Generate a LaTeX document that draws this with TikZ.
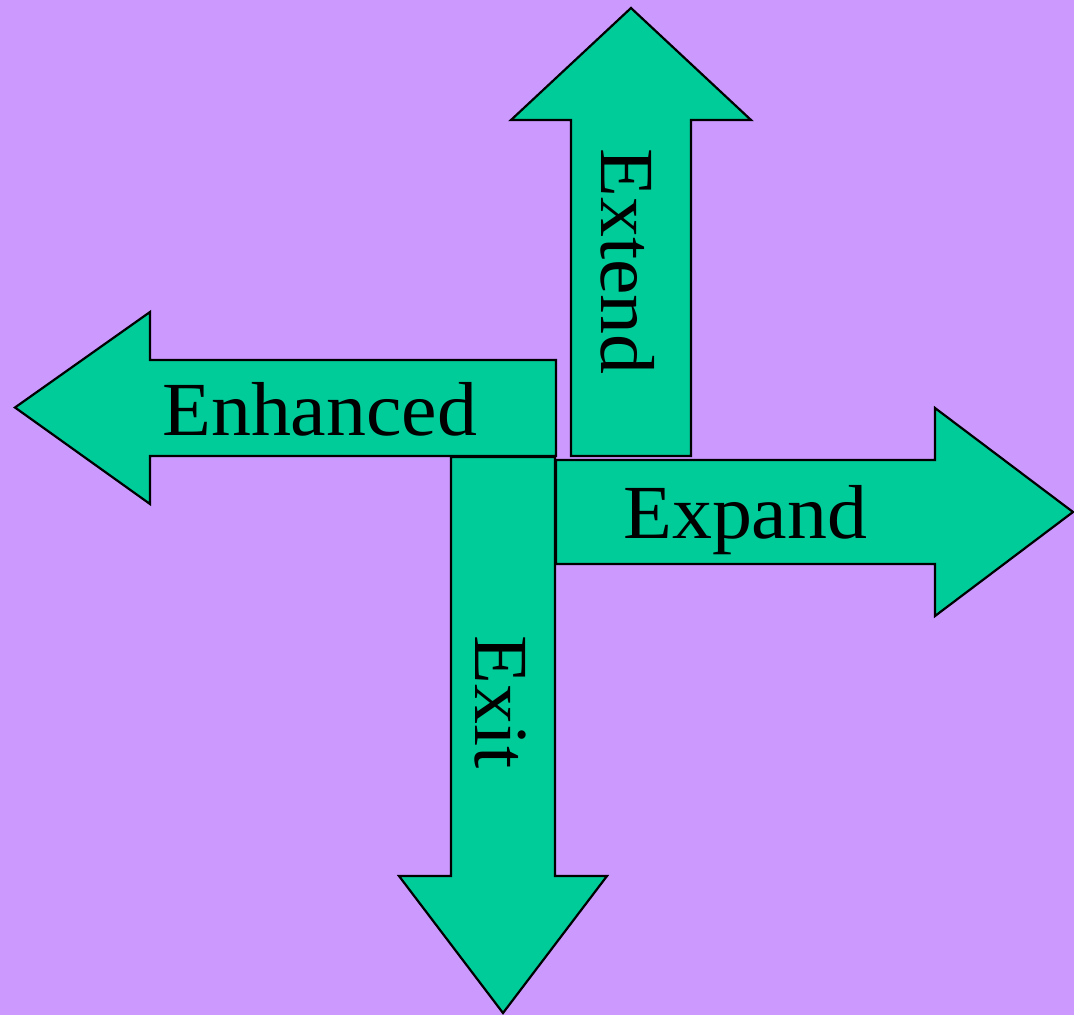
\documentclass[tikz,border=0pt]{standalone}
\usepackage{fontspec}
\newfontfamily\arrowfont[FakeStretch=1.045]{Liberation Serif}
\definecolor{bgpurple}{RGB}{204,153,255}
\definecolor{arrowgreen}{RGB}{0,204,153}
\begin{document}
\begin{tikzpicture}[x=1pt,y=-1pt,
  arrowshape/.style={fill=arrowgreen,draw=black,line width=2.2pt,line join=miter},
  arrowlabel/.style={inner sep=0pt,anchor=base west,font=\arrowfont\fontsize{76.5}{76.5}\selectfont,text=black}]
\fill[bgpurple] (0,0) rectangle (1074,1015);
\useasboundingbox (0,0) rectangle (1074,1015);
% Extend (up)
\draw[arrowshape] (571,456) -- (571,120) -- (511,120) -- (631,8) -- (751,120) -- (691,120) -- (691,456) -- cycle;
% Enhanced (left)
\draw[arrowshape] (556,360) -- (150,360) -- (150,312) -- (15,407.5) -- (150,504) -- (150,456) -- (556,456) -- cycle;
% Expand (right)
\draw[arrowshape] (556,460) -- (935,460) -- (935,408) -- (1073,512) -- (935,616) -- (935,564) -- (556,564) -- cycle;
% Exit (down)
\draw[arrowshape] (451,457) -- (555,457) -- (555,876) -- (607,876) -- (503,1013) -- (399,876) -- (451,876) -- cycle;
\node[arrowlabel] (enhanced) at (162,435) {Enhanced};
\node[arrowlabel] (expand) at (623,538) {Expand};
\node[arrowlabel,rotate=-90] (extend) at (601.5,148) {Extend};
\node[arrowlabel,rotate=-90] (exit) at (475.5,635) {Exit};
\end{tikzpicture}
\end{document}
